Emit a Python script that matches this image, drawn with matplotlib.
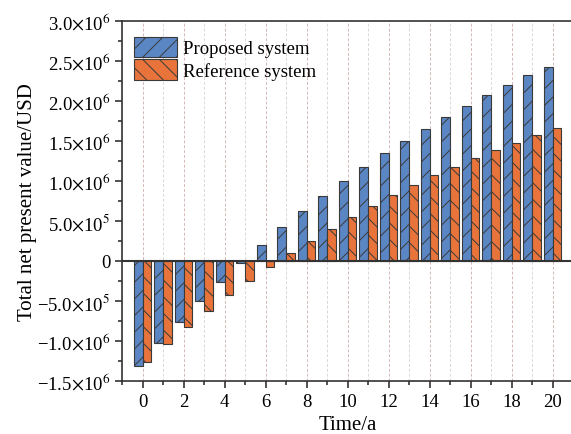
import numpy as np
import matplotlib.pyplot as plt
from matplotlib.ticker import FuncFormatter, MultipleLocator

plt.rcParams['font.family'] = ['Liberation Serif', 'DejaVu Serif']
plt.rcParams['mathtext.fontset'] = 'stix'
plt.rcParams['hatch.color'] = '#2b2b2b'
plt.rcParams['hatch.linewidth'] = 0.7

# total net present value per year (USD)
years = np.arange(0, 21)
proposed = [-1.31e6, -1.03e6, -0.76e6, -0.50e6, -0.26e6, -0.025e6, 0.20e6,
            0.42e6, 0.625e6, 0.816e6, 1.004e6, 1.18e6, 1.35e6, 1.50e6,
            1.65e6, 1.80e6, 1.94e6, 2.07e6, 2.20e6, 2.32e6, 2.43e6]
reference = [-1.26e6, -1.04e6, -0.82e6, -0.62e6, -0.425e6, -0.25e6, -0.08e6,
             0.096e6, 0.254e6, 0.40e6, 0.546e6, 0.69e6, 0.82e6, 0.95e6,
             1.07e6, 1.18e6, 1.29e6, 1.39e6, 1.48e6, 1.575e6, 1.66e6]

fig = plt.figure(figsize=(5.71, 4.35), dpi=100)
ax = fig.add_axes([122 / 571, 53 / 435, 451 / 571, 360 / 435])

w = 0.42
ax.bar(years - w / 2, proposed, w, color='#5b86c4', edgecolor='#3a3a3a',
       linewidth=0.8, hatch='//', label='Proposed system', zorder=3)
ax.bar(years + w / 2, reference, w, color='#e8743b', edgecolor='#3a3a3a',
       linewidth=0.8, hatch='\\\\', label='Reference system', zorder=3)

ax.axhline(0, color='#333333', linewidth=1.5, zorder=4)

ax.set_xlim(-1, 21)
ax.set_ylim(-1.5e6, 3.0e6)
ax.xaxis.set_major_locator(MultipleLocator(2))
ax.xaxis.set_minor_locator(MultipleLocator(1))
ax.yaxis.set_major_locator(MultipleLocator(0.5e6))
ax.yaxis.set_minor_locator(MultipleLocator(0.25e6))


def sci(v, pos):
    if abs(v) < 1:
        return '0'
    exp = int(np.floor(np.log10(abs(v))))
    mant = v / 10 ** exp
    sign = '\u2212' if mant < 0 else ''
    return f'{sign}{abs(mant):.1f}$\\times$10$^{{{exp}}}$'


ax.yaxis.set_major_formatter(FuncFormatter(sci))

ax.grid(axis='x', which='major', color='#d4b8b8', linestyle=(0, (3, 2)),
        linewidth=0.7, zorder=0)
ax.grid(axis='x', which='minor', color='#d8d8d8', linestyle=(0, (3, 2)),
        linewidth=0.7, zorder=0)

for s in ax.spines.values():
    s.set_linewidth(1.2)
    s.set_color('#333333')

ax.tick_params(axis='both', which='major', direction='out', length=5,
               width=1.2, labelsize=13.5, color='#333333')
ax.tick_params(axis='both', which='minor', direction='out', length=3,
               width=1.2, color='#333333')

ax.set_xlabel('Time/a', fontsize=15, labelpad=4)
ax.set_ylabel('Total net present value/USD', fontsize=15, labelpad=0)

ax.legend(loc='upper left', fontsize=13.5, frameon=False,
          handlelength=2.3, handleheight=1.3, handletextpad=0.3,
          labelspacing=0.1, borderpad=0, borderaxespad=0,
          bbox_to_anchor=(12 / 451, 1 - 16 / 360))

fig.savefig('out.png', dpi=100)
